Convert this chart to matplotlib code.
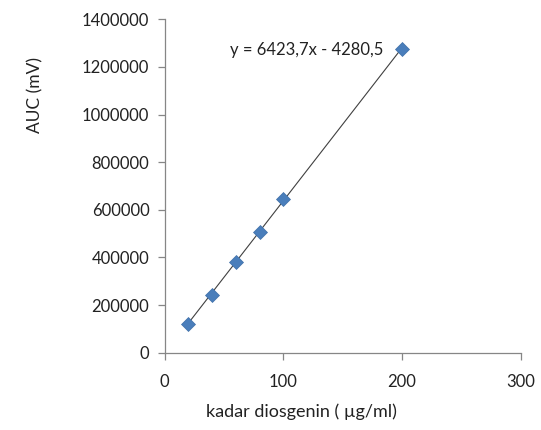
import numpy as np
import matplotlib
matplotlib.use("Agg")
import matplotlib.pyplot as plt

plt.rcParams['font.family'] = ['Lato', 'DejaVu Sans']

# calibration data
kadar = [20, 40, 60, 80, 100, 200]
auc = [119000, 241000, 381000, 506000, 644000, 1277000]

# linear trendline from the chart
slope = 6423.7
intercept = -4280.5
eq_label = "y = 6423,7x - 4280,5"

x_ticks = [0, 100, 200, 300]
y_ticks = [0, 200000, 400000, 600000, 800000, 1000000, 1200000, 1400000]

fig = plt.figure(figsize=(5.41, 4.30), dpi=100)
ax = fig.add_axes([0.3044, 0.1798, 0.9625 - 0.3044, 0.955 - 0.1798])

xs = np.array([min(kadar), max(kadar)])
ax.plot(xs, slope * xs + intercept, color="#404040", lw=0.8, zorder=2)
ax.plot(kadar, auc, ls="none", marker="D", ms=7.2, color="#4a7ebb",
        mec="#3f6fa8", mew=0.5, zorder=3)

ax.text(184, 1271000, eq_label, ha="right", va="center", fontsize=12,
        color="#222222")

ax.set_xlim(0, 300)
ax.set_ylim(0, 1400000)
ax.set_xticks(x_ticks)
ax.set_yticks(y_ticks)
ax.set_xticklabels([str(v) for v in x_ticks])
ax.set_yticklabels([str(v) for v in y_ticks])

for s in ["top", "right"]:
    ax.spines[s].set_visible(False)
for s in ["left", "bottom"]:
    ax.spines[s].set_color("#868686")
    ax.spines[s].set_linewidth(0.9)
ax.tick_params(direction="out", length=5, width=0.9, color="#868686",
               labelsize=12, labelcolor="#222222")
ax.tick_params(axis="x", pad=10)
ax.tick_params(axis="y", pad=6)

fig.text(301.7 / 541, 1 - 411.7 / 430, "kadar diosgenin ( µg/ml)",
         ha="center", va="center", fontsize=13, color="#222222")
fig.text(35 / 541, 1 - 95 / 430, "AUC (mV)", ha="center", va="center",
         rotation=90, fontsize=12.5, color="#222222")

fig.savefig("out.png", dpi=100)
